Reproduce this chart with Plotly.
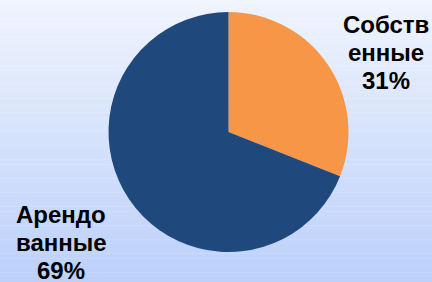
import plotly.graph_objects as go

labels = ["Собственные", "Арендованные"]
values = [31, 69]
label_lines = [["Собств", "енные"], ["Арендо", "ванные"]]
colors = ["#F79646", "#1F497D"]

W, H = 432, 282
cx, cy, r = 228.5, 132, 120

fig = go.Figure()
fig.add_trace(go.Pie(
    labels=labels, values=values, sort=False, direction="clockwise", rotation=0,
    marker=dict(colors=colors, line=dict(width=0)),
    textinfo="none", hoverinfo="label+percent", showlegend=False,
    domain=dict(x=[(cx - r) / W, (cx + r) / W], y=[1 - (cy + r) / H, 1 - (cy - r) / H]),
))

# background vertical gradient
top = (239, 244, 253)
bot = (188, 208, 250)
n = 60
shapes = []
for i in range(n):
    t = i / (n - 1)
    c = tuple(round(top[k] + (bot[k] - top[k]) * t) for k in range(3))
    shapes.append(dict(type="rect", xref="paper", yref="paper", x0=0, x1=1,
                       y0=1 - (i + 1) / n, y1=1 - i / n + 0.001,
                       fillcolor="rgb(%d,%d,%d)" % c, line=dict(width=0), layer="below"))

total = sum(values)
pos = [(385.5, 24.5), (61.3, 214.5)]
step = 28
annotations = []
for (x, y0), lines, v in zip(pos, label_lines, values):
    all_lines = lines + ["%d%%" % round(100 * v / total)]
    for j, ln in enumerate(all_lines):
        annotations.append(dict(x=x / W, y=1 - (y0 + j * step) / H, xref="paper", yref="paper",
                                text="<b>" + ln + "</b>",
                                showarrow=False, xanchor="center", yanchor="middle",
                                font=dict(family="Liberation Sans, Arial", size=24, color="#000000")))

fig.update_layout(width=W, height=H, margin=dict(l=0, r=0, t=0, b=0),
                  paper_bgcolor="rgba(0,0,0,0)", plot_bgcolor="rgba(0,0,0,0)",
                  shapes=shapes, annotations=annotations)
fig.write_html("out.html", config={"displayModeBar": False},
               post_script="document.body.style.margin='0';document.body.style.overflow='hidden';")
